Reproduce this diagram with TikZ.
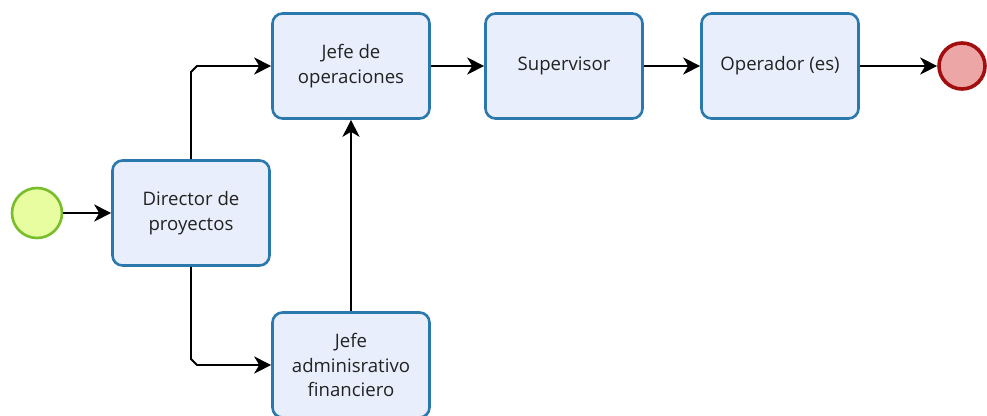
\documentclass[tikz,border=0pt]{standalone}
\usepackage{fontspec}
\setmainfont{Open Sans}
\usetikzlibrary{arrows.meta,calc}
\definecolor{boxfill}{HTML}{E9EEFC}
\definecolor{boxdraw}{HTML}{2A78AC}
\definecolor{startfill}{HTML}{E8FCA0}
\definecolor{startdraw}{HTML}{78BE2A}
\definecolor{endfill}{HTML}{EDA6A6}
\definecolor{enddraw}{HTML}{A30E0E}
\definecolor{txt}{HTML}{222222}
\begin{document}
\begin{tikzpicture}[x=1pt,y=-1pt,
  task/.style={draw=boxdraw,fill=boxfill,line width=2.6pt,rounded corners=10pt,
    minimum width=157pt,minimum height=105pt,align=center,text=txt,
    font=\fontsize{18.6}{24.5}\selectfont},
  startev/.style={circle,draw=startdraw,fill=startfill,line width=2.6pt,minimum size=50pt,inner sep=0pt},
  endev/.style={circle,draw=enddraw,fill=endfill,line width=3.6pt,minimum size=46pt,inner sep=0pt},
  flow/.style={line width=1.8pt,-{Stealth[length=17pt,width=17pt,inset=5pt]}}]
\useasboundingbox (0,0) rectangle (987,415);
\node[startev] (start) at (37,213) {};
\node[task] (dir) at (191,213) {Director de\\proyectos};
\node[task] (jo) at (351,66) {Jefe de\\operaciones};
\node[task] (sup) at (564,66) {Supervisor};
\node[task] (op) at (780,66) {Operador (es)};
\node[task] (ja) at (351,365) {Jefe\\adminisrativo\\financiero};
\node[endev] (fin) at (962,66) {};
\draw[flow] (start) -- (dir);
\draw[flow] (dir.north) -- ($(dir.north|-jo.west)+(0,6)$) -- ($(dir.north|-jo.west)+(6,0)$) -- (jo.west);
\draw[flow] (dir.south) -- ($(dir.south|-ja.west)+(0,-6)$) -- ($(dir.south|-ja.west)+(6,0)$) -- (ja.west);
\draw[flow] (ja.north) -- (jo.south);
\draw[flow] (jo) -- (sup);
\draw[flow] (sup) -- (op);
\draw[flow] (op) -- (fin);
\end{tikzpicture}
\end{document}
